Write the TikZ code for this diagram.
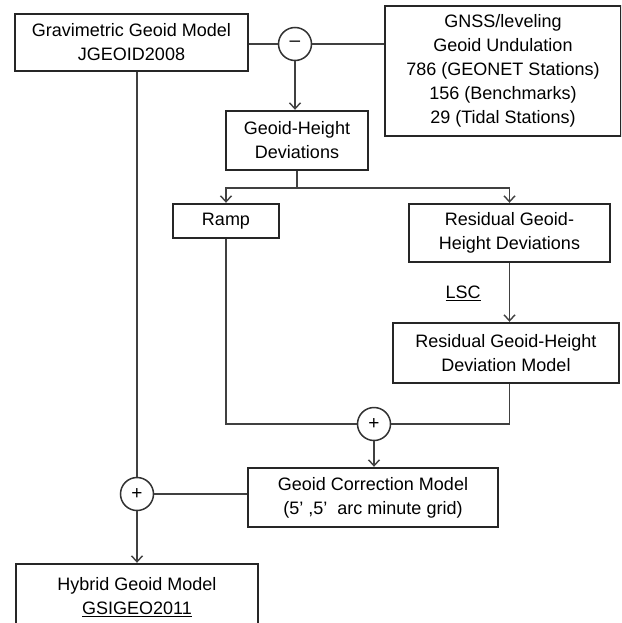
\documentclass[tikz,border=0pt]{standalone}
\usepackage{fontspec}
\setmainfont{Liberation Sans}
\usetikzlibrary{arrows.meta}
\tikzset{
  block/.style={draw=black!85, line width=2.4pt, align=center, inner sep=0pt, fill=white,
    font=\fontsize{18}{24}\selectfont},
  opnode/.style={circle, draw=black!80, line width=1.5pt, minimum size=33pt, inner sep=0pt,
    fill=white, font=\fontsize{19}{19}\selectfont},
  link/.style={draw=black!75, line width=1.8pt},
  flow/.style={link, -{Straight Barb[length=6pt,width=11pt,line width=1.4pt]}}
}

\begin{document}
\begin{tikzpicture}[x=1pt, y=-1pt]
  \clip (0,0) rectangle (621,623);
  \fill[white] (0,0) rectangle (621,623);

  % boxes
  \node[block, minimum width=233pt, minimum height=57pt] (grav) at (131.5,42.5) {Gravimetric Geoid Model\\JGEOID2008};
  \node[block, minimum width=236pt, minimum height=130pt] (gnss) at (503,71) {GNSS/leveling\\Geoid Undulation\\786 (GEONET Stations)\\156 (Benchmarks)\\29 (Tidal Stations)};
  \node[block, minimum width=142pt, minimum height=59pt] (dev) at (297,140.5) {Geoid-Height\\Deviations};
  \node[block, minimum width=106pt, minimum height=34pt] (ramp) at (226,221) {Ramp};
  \node[block, minimum width=201pt, minimum height=58pt] (resdev) at (509.5,233) {Residual Geoid-\\Height Deviations};
  \node[block, minimum width=226pt, minimum height=60pt] (model) at (506,353) {Residual Geoid-Height\\Deviation Model};
  \node[block, minimum width=250pt, minimum height=59pt] (corr) at (373,497.5) {Geoid Correction Model\\(5’ ,5’\ \ arc minute grid)};
  \node[block, minimum width=242pt, minimum height=66pt] (hybrid) at (137,597) {Hybrid Geoid Model\\\underline{GSIGEO2011}};

  % operators
  \node[opnode] (minus) at (295,44) {–};
  \node[opnode] (sum) at (374,424) {+};
  \node[opnode] (plus) at (137,494) {+};
  \node[font=\fontsize{18}{24}\selectfont] (lsc) at (463,293) {\underline{LSC}};
  \coordinate (split) at (297,188);

  % connectors
  \draw[link] (grav.east |- minus.west) -- (minus.west);
  \draw[link] (minus.east) -- (minus.east -| gnss.west);
  \draw[flow] (minus.south) -- (minus.south |- dev.north);
  \draw[link] (dev.south) -- (split);
  \draw[flow] (split) -| (ramp.north);
  \draw[flow] (split) -| (resdev.north);
  \draw[flow] (resdev.south) -- (resdev.south |- model.north);
  \draw[link] (ramp.south) |- (sum.west);
  \draw[link] (resdev.south |- model.south) |- (sum.east);
  \draw[flow] (sum.south) -- (sum.south |- corr.north);
  \draw[link] (plus.east) -- (plus.east -| corr.west);
  \draw[link] (plus.north |- grav.south) -- (plus.north);
  \draw[flow] (plus.south) -- (hybrid.north);
\end{tikzpicture}
\end{document}
